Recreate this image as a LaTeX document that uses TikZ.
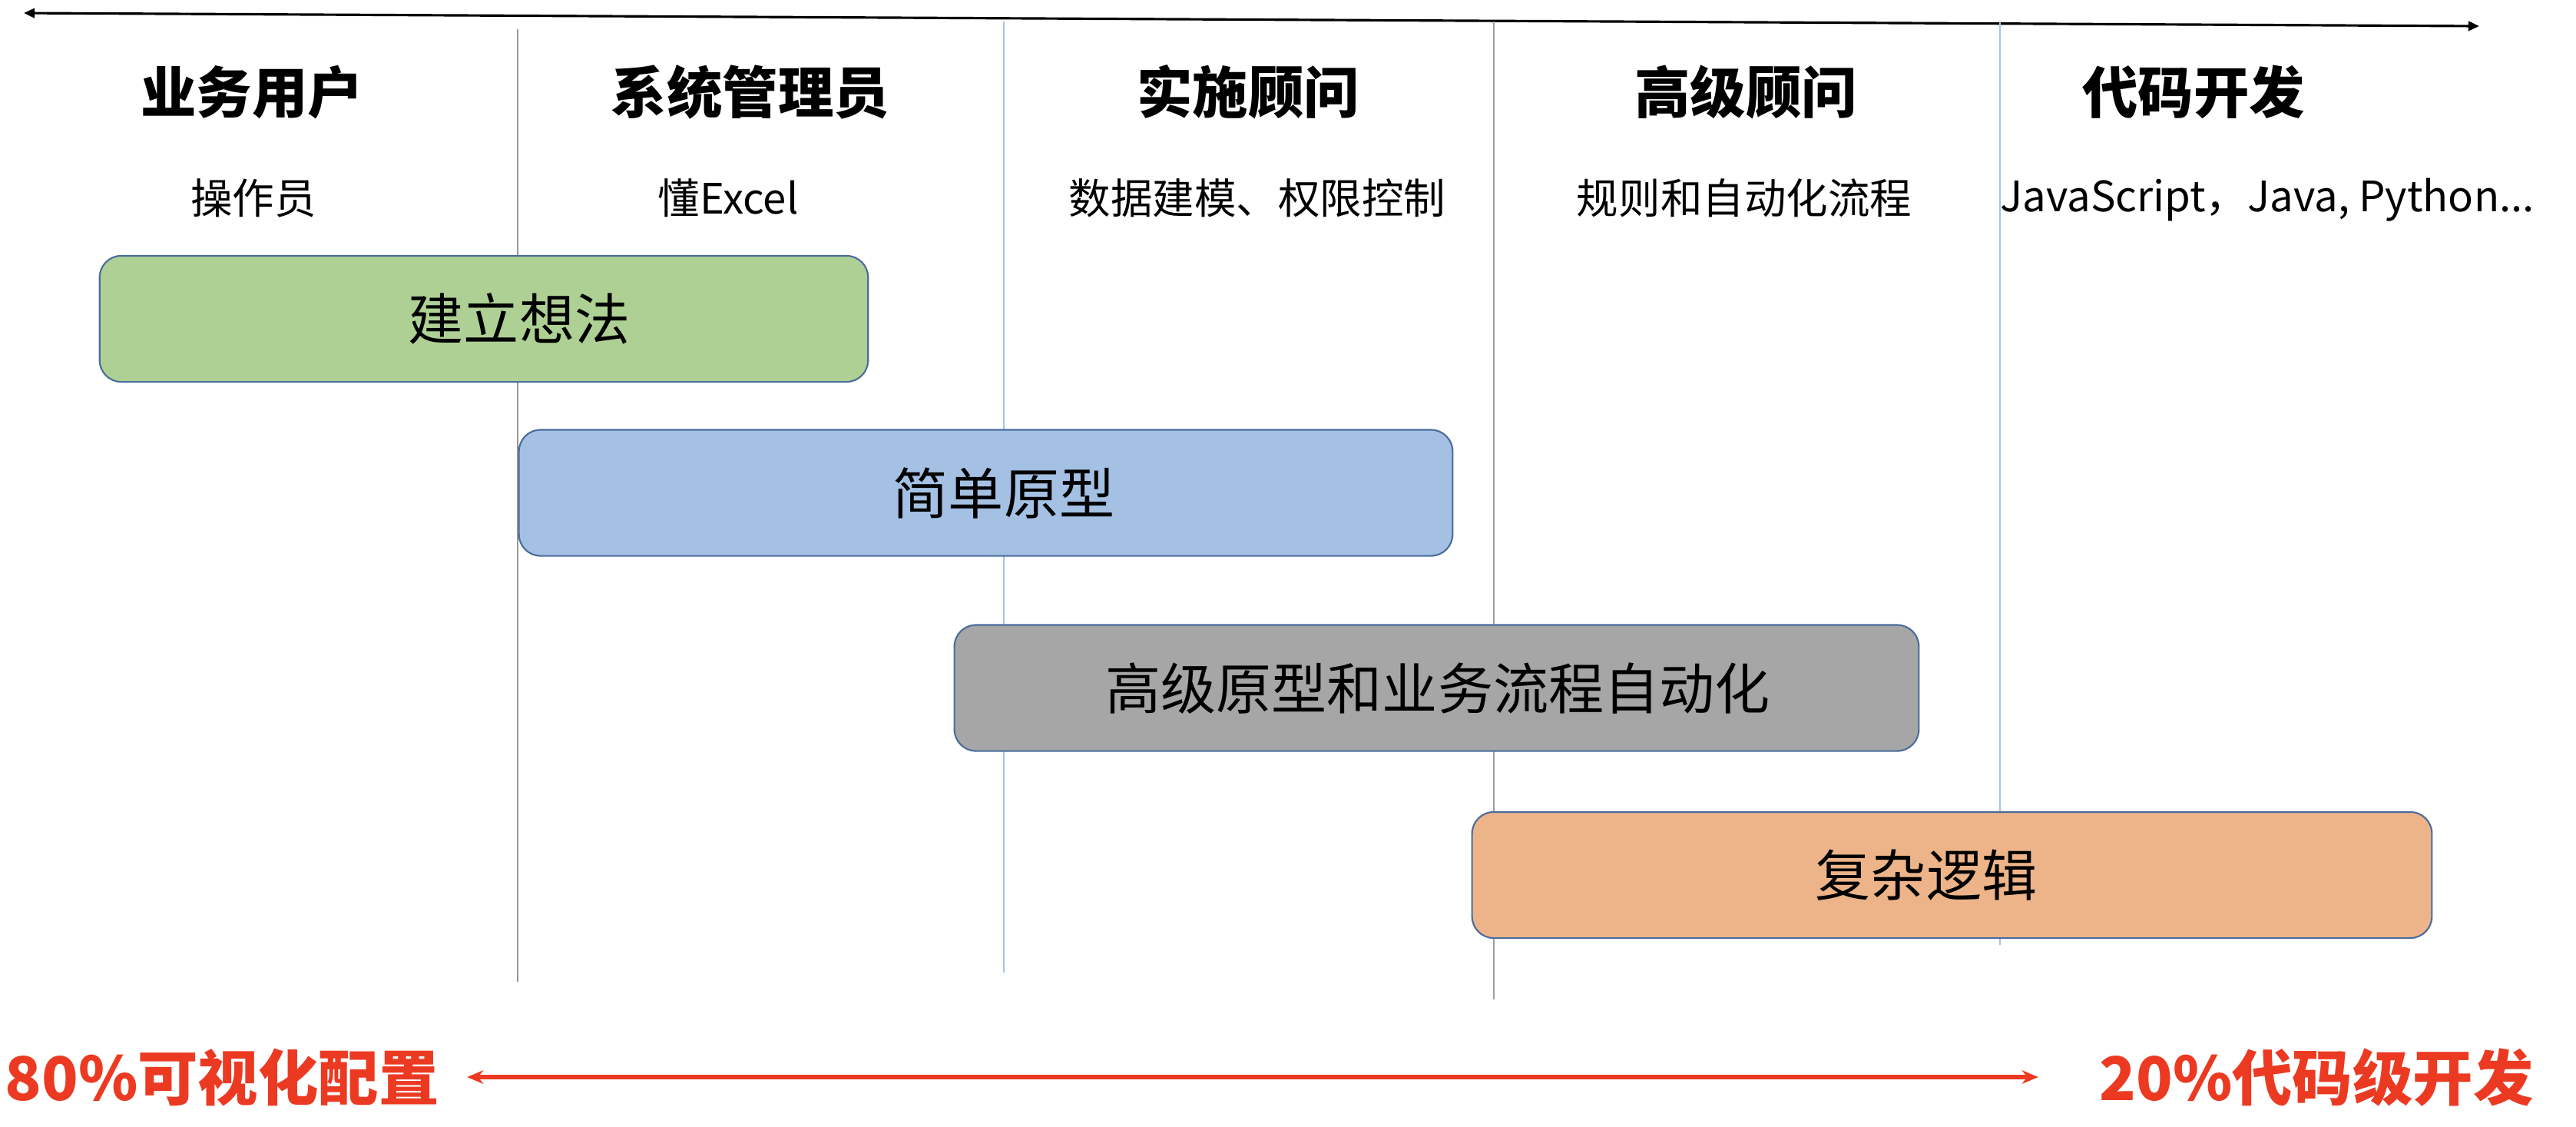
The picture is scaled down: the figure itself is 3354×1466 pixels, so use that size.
\documentclass[tikz,border=0pt]{standalone}
\usepackage{fontspec}
\setmainfont{Noto Sans CJK SC}
\usetikzlibrary{arrows.meta}

\definecolor{ideagreen}{RGB}{174,208,148}
\definecolor{protoblue}{RGB}{164,193,228}
\definecolor{advgray}{RGB}{166,166,166}
\definecolor{logicorange}{RGB}{236,180,136}
\definecolor{phaseborder}{RGB}{74,108,156}
\definecolor{ratiored}{RGB}{236,58,34}
\definecolor{sepgray}{RGB}{150,150,150}
\definecolor{sepblue}{RGB}{168,194,228}

\newcommand\roletitlestyle{\fontsize{20.6pt}{25pt}\selectfont\bfseries}
\newcommand\roleskillstyle{\fontsize{15.5pt}{19pt}\selectfont}
\newcommand\phasetextstyle{\fontsize{20.5pt}{24pt}\selectfont}
\newcommand\ratiostyle{\fontsize{22.3pt}{27pt}\selectfont\bfseries}
\newcommand\phaseheight{1.64cm}

\tikzset{
  phase/.style={draw=phaseborder, line width=0.6pt, rounded corners=8pt,
    inner sep=0pt, minimum height=\phaseheight},
  phasetext/.style={inner sep=0pt, font=\phasetextstyle},
  roletitle/.style={inner sep=0pt, font=\roletitlestyle},
  roleskill/.style={inner sep=0pt, font=\roleskillstyle},
  ratio/.style={inner sep=0pt, text=ratiored, font=\ratiostyle},
  sepline/.style={line width=0.35pt},
}

\begin{document}
\begin{tikzpicture}[x=0.01cm, y=-0.01cm]
    \useasboundingbox (0,0) rectangle (3354,1466);

    % axis on top
    \coordinate (axisL) at (31,17);
    \coordinate (axisR) at (3228,34);
    \draw[line width=0.9pt, {Triangle[length=4pt,width=3.5pt]}-{Triangle[length=4pt,width=3.5pt]}] (axisL) -- (axisR);

    % column separators
    \draw[sepline, sepgray] (674, 38) -- (674, 1278);
    \draw[sepline, sepblue] (1307, 28) -- (1307, 1266);
    \draw[sepline, sepgray!80!sepblue] (1945, 28) -- (1945, 1301);
    \draw[sepline, sepblue] (2604, 28) -- (2604, 1230);

    % roles
    \node[roletitle] (userT) at (328, 120) {业务用户};
    \node[roleskill] (userS) at (330, 258) {操作员};
    \node[roletitle] (adminT) at (977, 120) {系统管理员};
    \node[roleskill] (adminS) at (948, 258) {懂Excel};
    \node[roletitle] (implT) at (1625, 120) {实施顾问};
    \node[roleskill] (implS) at (1637, 258) {数据建模、权限控制};
    \node[roletitle] (seniorT) at (2273, 120) {高级顾问};
    \node[roleskill] (seniorS) at (2271, 258) {规则和自动化流程};
    \node[roletitle] (devT) at (2856, 120) {代码开发};
    \node[roleskill] (devS) at (2952, 260) {JavaScript，Java, Python...};

    % phases
    \node[phase, fill=ideagreen, minimum width=10cm] (idea) at (630, 415) {};
    \node[phasetext] (ideaL) at (676, 415) {建立想法};
    \node[phase, fill=protoblue, minimum width=12.15cm] (proto) at (1283.5, 641.5) {};
    \node[phasetext] (protoL) at (1307, 642) {简单原型};
    \node[phase, fill=advgray, minimum width=12.55cm] (adv) at (1870.5, 895.5) {};
    \node[phasetext] (advL) at (1872, 896) {高级原型和业务流程自动化};
    \node[phase, fill=logicorange, minimum width=12.49cm] (logic) at (2541.5, 1139) {};
    \node[phasetext] (logicL) at (2508, 1139) {复杂逻辑};

    % ratio
    \node[ratio] (lowcode) at (289, 1402) {80\%可视化配置};
    \node[ratio] (procode) at (3016, 1402) {20\%代码级开发};
    \draw[ratiored, line width=1.7pt, {Stealth[length=6pt,width=5pt]}-{Stealth[length=6pt,width=5pt]}]
      ([xshift=0.36cm]lowcode.east) -- ([xshift=-0.79cm]procode.west);
\end{tikzpicture}
\end{document}
